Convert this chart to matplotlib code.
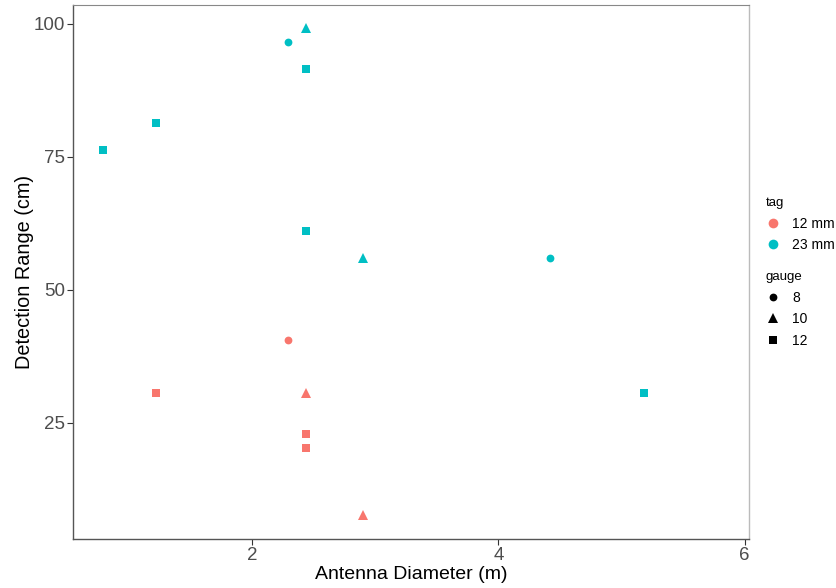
import matplotlib
matplotlib.use("Agg")
import matplotlib.pyplot as plt
from matplotlib.lines import Line2D

plt.rcParams['font.family'] = ['Liberation Sans', 'DejaVu Sans']

# Data
diameter = [0.79, 1.22, 2.29, 2.44, 2.44, 2.44, 2.90, 4.42, 5.18,
            2.29, 1.22, 2.44, 2.44, 2.44, 2.90]
detect = [76.2, 81.3, 96.5, 99.1, 91.4, 61.0, 55.9, 55.9, 30.5,
          40.6, 30.5, 30.5, 22.9, 20.3, 7.6]
tag = ['23 mm'] * 9 + ['12 mm'] * 6
gauge = [12, 12, 8, 10, 12, 12, 10, 8, 12,
         8, 12, 10, 12, 12, 10]

tag_levels = ['12 mm', '23 mm']
tag_colors = {'12 mm': '#F8766D', '23 mm': '#00BFC4'}
gauge_levels = [8, 10, 12]
gauge_markers = {8: 'o', 10: '^', 12: 's'}
gauge_sizes = {8: 5.6, 10: 6.6, 12: 5.4}

fig = plt.figure(figsize=(8.37, 5.88), dpi=100)
ax = fig.add_axes([73/837, 1 - 539/588, (749 - 73)/837, (539 - 4.5)/588])

for x, y, t, g in zip(diameter, detect, tag, gauge):
    ax.plot([x], [y], linestyle='none', marker=gauge_markers[g],
            markersize=gauge_sizes[g], color=tag_colors[t], markeredgewidth=0)

ax.set_xlim(0.545, 6.036)
ax.set_ylim(3.1, 103.6)
ax.set_xticks([2, 4, 6])
ax.set_yticks([25, 50, 75, 100])
ax.tick_params(axis='both', labelsize=13.5, labelcolor='#4d4d4d', color='#333333',
               length=4.3, width=0.8, direction='out', pad=1.2)
ax.set_xlabel('Antenna Diameter (m)', fontsize=14, color='black', labelpad=2)
ax.set_ylabel('Detection Range (cm)', fontsize=14.3, color='black', labelpad=0)

for side in ['left', 'bottom']:
    ax.spines[side].set_color('#555555')
    ax.spines[side].set_linewidth(1.0)
ax.spines['top'].set_color('#888888')
ax.spines['top'].set_linewidth(0.8)
ax.spines['right'].set_color('#bbbbbb')
ax.spines['right'].set_linewidth(1.0)

h_tag = [Line2D([], [], linestyle='none', marker='o', markersize=7,
                color=tag_colors[t], markeredgewidth=0) for t in tag_levels]
h_gauge = [Line2D([], [], linestyle='none', marker=gauge_markers[g],
                  markersize=gauge_sizes[g], color='black', markeredgewidth=0)
           for g in gauge_levels]

common = dict(loc='upper left', frameon=False, fontsize=10, title_fontsize=9.5,
              alignment='left', handlelength=1.0, handletextpad=0.9,
              labelspacing=0.55, borderpad=0, borderaxespad=0)
leg1 = fig.legend(h_tag, tag_levels, title='tag',
                  bbox_to_anchor=(766/837, 1 - 197/588), **common)
leg2 = fig.legend(h_gauge, [str(g) for g in gauge_levels], title='gauge',
                  bbox_to_anchor=(766/837, 1 - 271/588), **common)

fig.savefig('out.png', dpi=100)
